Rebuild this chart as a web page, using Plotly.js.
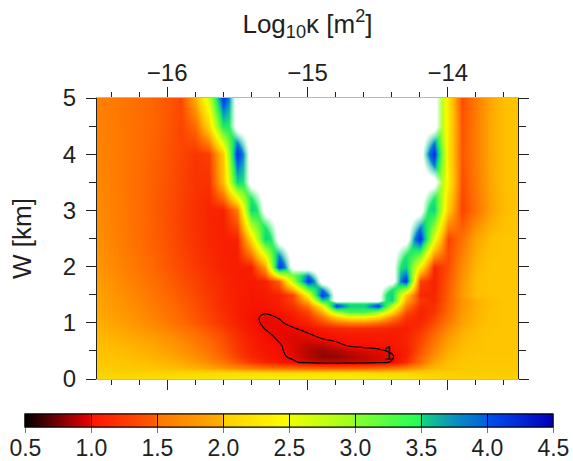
<!DOCTYPE html>
<html><head><meta charset="utf-8">
<script src="https://cdn.plot.ly/plotly-3.0.1.min.js"></script>
<style>html,body{margin:0;padding:0;background:#fff;}#chart{width:573px;height:461px;}</style>
</head><body><div id="chart"></div>
<script>
// log10 permeability (columns)
const logK = [-16.5,-16.4,-16.3,-16.2,-16.1,-16.0,-15.9,-15.8,-15.7,-15.6,-15.5,-15.4,-15.3,-15.2,-15.1,-15.0,-14.9,-14.8,-14.7,-14.6,-14.5,-14.4,-14.3,-14.2,-14.1,-14.0,-13.9,-13.8,-13.7,-13.6,-13.5];
// W [km] (rows)
const widthKm = [0,0.1,0.2,0.3,0.4,0.5,0.6,0.7,0.8,0.9,1.0,1.1,1.2,1.3,1.4,1.5,1.75,2.0,2.5,3.0,3.5,4.0,4.5,5.0];
// misfit values, one row per W; null = above the colour range (drawn white)
const misfit = [
 [2.2,2.21,2.22,2.23,2.24,2.26,2.28,2.3,2.32,2.34,2.36,2.37,2.38,2.38,2.38,2.38,2.38,2.38,2.38,2.37,2.36,2.34,2.3,2.25,2.2,2.17,2.15,2.15,2.14,2.14,2.14],
 [2.15,2.15,2.16,2.16,2.17,2.17,2.18,2.19,2.2,2.21,2.22,2.23,2.24,2.24,2.24,2.24,2.24,2.24,2.24,2.23,2.22,2.2,2.18,2.16,2.14,2.12,2.11,2.11,2.1,2.1,2.1],
 [2.1,2.09,2.08,2.06,2.04,2.01,1.97,1.92,1.86,1.79,1.7,1.62,1.56,1.52,1.5,1.47,1.44,1.43,1.44,1.46,1.5,1.56,1.66,1.82,1.96,2.04,2.07,2.08,2.08,2.08,2.08],
 [2.08,2.06,2.04,2.01,1.98,1.94,1.88,1.8,1.7,1.56,1.4,1.24,1.14,1.08,1.02,0.95,0.9,0.89,0.91,0.93,0.95,1.01,1.18,1.52,1.83,1.99,2.05,2.07,2.07,2.07,2.07],
 [2.05,2.03,2.0,1.97,1.93,1.88,1.81,1.73,1.62,1.48,1.3,1.15,1.08,1.03,0.97,0.87,0.8,0.81,0.85,0.89,0.93,0.98,1.12,1.45,1.75,1.95,2.03,2.06,2.06,2.06,2.06],
 [2.02,2.0,1.97,1.93,1.89,1.83,1.76,1.67,1.56,1.42,1.25,1.12,1.06,1.02,0.95,0.86,0.81,0.84,0.9,0.94,0.97,1.02,1.1,1.38,1.68,1.9,2.0,2.04,2.05,2.05,2.05],
 [2.0,1.97,1.94,1.9,1.85,1.79,1.72,1.63,1.52,1.39,1.23,1.11,1.05,1.01,0.95,0.89,0.88,0.96,1.02,1.04,1.05,1.07,1.12,1.33,1.6,1.84,1.97,2.03,2.05,2.05,2.05],
 [1.97,1.94,1.9,1.86,1.81,1.75,1.68,1.59,1.48,1.36,1.21,1.1,1.04,0.99,0.94,0.93,0.99,1.02,1.05,1.06,1.07,1.08,1.13,1.3,1.56,1.8,1.95,2.02,2.05,2.05,2.05],
 [1.95,1.91,1.87,1.82,1.77,1.71,1.63,1.54,1.44,1.32,1.18,1.08,1.02,0.97,0.96,0.99,1.04,1.07,1.09,1.09,1.09,1.09,1.12,1.26,1.5,1.75,1.92,2.0,2.04,2.05,2.05],
 [1.92,1.88,1.83,1.78,1.72,1.65,1.57,1.48,1.38,1.27,1.15,1.06,0.995,0.97,0.99,1.04,1.1,1.15,1.18,1.18,1.16,1.12,1.1,1.2,1.42,1.68,1.88,1.98,2.03,2.05,2.05],
 [1.9,1.85,1.8,1.74,1.67,1.6,1.51,1.42,1.32,1.22,1.12,1.05,0.97,0.98,1.05,1.12,1.3,1.5,1.6,1.6,1.5,1.32,1.15,1.15,1.35,1.6,1.82,1.95,2.02,2.05,2.05],
 [1.88,1.83,1.78,1.72,1.65,1.57,1.49,1.4,1.3,1.2,1.11,1.04,0.97,1.01,1.08,1.2,1.55,2.1,2.4,2.4,2.2,1.65,1.22,1.12,1.28,1.55,1.8,1.94,2.02,2.05,2.05],
 [1.86,1.81,1.76,1.7,1.63,1.55,1.47,1.38,1.28,1.18,1.1,1.05,1.02,1.05,1.12,1.3,1.9,2.9,3.3,3.3,3.0,2.2,1.35,1.12,1.22,1.5,1.78,1.93,2.02,2.05,2.05],
 [1.85,1.8,1.74,1.68,1.61,1.53,1.45,1.36,1.27,1.17,1.1,1.06,1.05,1.1,1.2,1.55,2.4,4.1,3.6,3.6,4.1,2.8,1.6,1.15,1.2,1.48,1.76,1.92,2.0,2.05,2.05],
 [1.84,1.78,1.72,1.66,1.59,1.51,1.43,1.34,1.25,1.16,1.1,1.07,1.07,1.12,1.3,2.0,3.6,null,null,null,null,3.6,1.9,1.25,1.15,1.45,1.75,1.92,2.0,2.05,2.05],
 [1.83,1.77,1.71,1.64,1.57,1.49,1.41,1.33,1.24,1.16,1.1,1.07,1.08,1.12,1.3,2.5,4.2,null,null,null,null,3.6,2.1,1.15,1.15,1.45,1.8,2.0,2.05,2.05,2.05],
 [1.8,1.74,1.67,1.6,1.53,1.45,1.37,1.29,1.21,1.15,1.1,1.08,1.12,1.45,2.9,4.2,null,null,null,null,null,null,4.2,1.3,1.12,1.4,1.75,2.0,2.05,2.05,2.05],
 [1.76,1.7,1.63,1.56,1.49,1.41,1.33,1.25,1.18,1.12,1.09,1.1,1.8,4.2,null,null,null,null,null,null,null,null,3.6,2.4,1.15,1.35,1.7,1.95,2.05,2.05,2.05],
 [1.72,1.66,1.59,1.52,1.45,1.37,1.29,1.21,1.15,1.11,1.12,2.2,3.6,null,null,null,null,null,null,null,null,null,null,4.2,2.6,1.3,1.55,1.85,2.0,2.05,2.05],
 [1.7,1.64,1.58,1.51,1.44,1.36,1.28,1.2,1.14,1.12,1.6,3.6,null,null,null,null,null,null,null,null,null,null,null,null,3.6,2.1,1.3,1.55,1.82,1.98,2.05],
 [1.68,1.63,1.57,1.51,1.45,1.38,1.3,1.22,1.2,2.0,3.6,null,null,null,null,null,null,null,null,null,null,null,null,null,null,2.4,1.35,1.6,1.85,2.0,2.05],
 [1.66,1.62,1.57,1.52,1.46,1.39,1.31,1.23,1.28,2.1,4.2,null,null,null,null,null,null,null,null,null,null,null,null,null,4.2,2.3,1.4,1.62,1.86,2.0,2.05],
 [1.64,1.61,1.57,1.53,1.48,1.41,1.31,1.5,2.2,3.5,null,null,null,null,null,null,null,null,null,null,null,null,null,null,null,2.35,1.38,1.62,1.86,2.0,2.05],
 [1.63,1.6,1.56,1.52,1.47,1.41,1.32,1.9,2.75,4.2,null,null,null,null,null,null,null,null,null,null,null,null,null,null,null,2.3,1.35,1.6,1.85,2.0,2.05]
];
const contourLevel = 1;
const contourLabel = '1';
const contourLabelAt = [-14.42, 0.47];
const xTickVals = [-16, -15, -14];
const yTickVals = [0, 1, 2, 3, 4, 5];
const cbTickVals = [0.5, 1, 1.5, 2, 2.5, 3, 3.5, 4, 4.5];
const cbTickText = ['0.5', '1.0', '1.5', '2.0', '2.5', '3.0', '3.5', '4.0', '4.5'];

// colour stops (style)
const barStopValues = [0.5, 0.99, 1.0, 1.49, 1.5, 1.99, 2.0, 2.49, 2.5, 2.99, 3.0, 3.49, 3.5, 3.75, 3.99, 4.0, 4.5];
const barStopColors = ['#000000','#e60000','#ff1400','#ff5c00','#ff7600','#ffae00','#ffcf00','#ffff00','#eeff00','#9cff1e','#88ff30','#22ff55','#12d87a','#0a90c0','#0062dc','#0050f2','#0000bc'];
const mapStopValues = [0.5, 1.0, 1.5, 2.0, 2.5, 3.0, 3.5, 3.75, 4.0, 4.5];
const mapStopColors = ['#000000','#f50a00','#ff6900','#ffbf00','#f6ff00','#92ff28','#1aeb66','#0aa8b8','#0459e8','#0000bc'];
const hiddenFill = 3.4;   // colour under the white off-scale mask
const maskScale = [[0, 'rgba(255,255,255,0)'], [0.4, 'rgba(255,255,255,0)'], [0.85, 'rgba(255,255,255,1)'], [1, 'rgba(255,255,255,1)']];

const zMin = 0.5, zMax = 4.5;
const barScale = barStopValues.map((v, i) => [(v - zMin) / (zMax - zMin), barStopColors[i]]);
const mapScale = mapStopValues.map((v, i) => [(v - zMin) / (zMax - zMin), mapStopColors[i]]);
const baseZ = misfit.map(r => r.map(v => v === null ? hiddenFill : v));
const maskZ = misfit.map(r => r.map(v => v === null ? 1 : 0));

const FONT = '"Liberation Sans", Arial, Helvetica, sans-serif';
const TXT = '#231f20';

const cbCommon = {
  orientation: 'h', x: 0.457, xanchor: 'center', y: -0.1263, yanchor: 'top',
  len: 528, lenmode: 'pixels', thickness: 13, thicknessmode: 'pixels',
  xpad: 0, ypad: 0, outlinewidth: 1, outlinecolor: '#000', tickmode: 'array',
  tickvals: cbTickVals
};

const traces = [
  {
    type: 'heatmap', x: logK, y: widthKm, z: baseZ, zmin: zMin, zmax: zMax,
    colorscale: mapScale, zsmooth: 'best', showscale: false, hoverinfo: 'skip'
  },
  {
    type: 'heatmap', x: logK, y: widthKm, z: maskZ, zmin: 0, zmax: 1,
    colorscale: maskScale, zsmooth: 'best', showscale: false, hoverinfo: 'skip'
  },
  {
    type: 'contour', x: logK, y: widthKm, z: baseZ, showscale: false, hoverinfo: 'skip',
    autocontour: false,
    contours: { start: contourLevel, end: contourLevel, size: 1, coloring: 'none', showlabels: false },
    line: { color: '#000', width: 1.2, smoothing: 1 }
  },
  {
    // outside grey ticks under the bar
    type: 'heatmap', x: [logK[0], logK[1]], y: [widthKm[0]], z: [[zMin, zMax]],
    zmin: zMin, zmax: zMax, colorscale: barScale, opacity: 0, hoverinfo: 'skip',
    colorbar: Object.assign({}, cbCommon, {
      ticks: 'outside', ticklen: 6, tickcolor: '#777', tickwidth: 1, showticklabels: false
    })
  },
  {
    // bar with black dividers and labels
    type: 'heatmap', x: [logK[0], logK[1]], y: [widthKm[0]], z: [[zMin, zMax]],
    zmin: zMin, zmax: zMax, colorscale: barScale, opacity: 0, hoverinfo: 'skip',
    colorbar: Object.assign({}, cbCommon, {
      ticktext: cbTickText, ticks: 'inside', ticklen: 13, tickcolor: '#000', tickwidth: 1.5,
      showticklabels: true, tickfont: { size: 23, color: TXT, family: FONT }
    })
  }
];

const layout = {
  width: 573, height: 461,
  margin: { l: 97, r: 55, t: 98, b: 82, autoexpand: false },
  paper_bgcolor: '#fff', plot_bgcolor: '#fff',
  font: { family: FONT, color: TXT, size: 24 },
  showlegend: false,
  xaxis: {
    range: [-16.5, -13.5], side: 'top', tickmode: 'array', tickvals: xTickVals,
    ticks: 'outside', ticklen: 10, tickwidth: 1, tickcolor: '#222',
    minor: { dtick: 0.2, tick0: -16, ticks: 'outside', ticklen: 5, tickcolor: '#222' },
    showline: true, linecolor: '#b8b8b8', linewidth: 1, mirror: 'allticks',
    showgrid: false, zeroline: false, ticklabelstandoff: -4,
    tickfont: { size: 24, color: TXT, family: FONT },
    title: { text: 'Log<sub>10</sub>κ [m<sup>2</sup>]', font: { size: 26, color: TXT, family: FONT }, standoff: 18 }
  },
  yaxis: {
    range: [0, 5], tickmode: 'array', tickvals: yTickVals,
    ticks: 'outside', ticklen: 10, tickwidth: 1, tickcolor: '#222',
    minor: { dtick: 0.5, tick0: 0, ticks: 'outside', ticklen: 7, tickcolor: '#222' },
    showline: true, linecolor: '#222', linewidth: 1, mirror: 'allticks',
    showgrid: false, zeroline: false, ticklabelstandoff: 5,
    tickfont: { size: 24, color: TXT, family: FONT },
    title: { text: 'W [km]', font: { size: 26, color: TXT, family: FONT }, standoff: 23 }
  },
  annotations: [{
    x: contourLabelAt[0], y: contourLabelAt[1], xref: 'x', yref: 'y', text: contourLabel,
    showarrow: false, font: { size: 20, color: TXT, family: FONT }, xanchor: 'center', yanchor: 'middle'
  }]
};

Plotly.newPlot('chart', traces, layout, { displayModeBar: false, staticPlot: true });
</script>
</body></html>
